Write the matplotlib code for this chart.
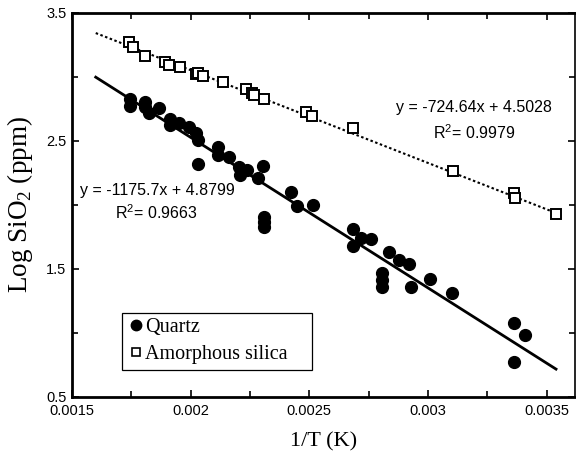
import matplotlib
matplotlib.use("Agg")
import matplotlib.pyplot as plt
from matplotlib.ticker import FixedLocator
from matplotlib.patches import Rectangle
import numpy as np

# Quartz data (1/T, log SiO2)
quartz_x = [0.001743, 0.001743, 0.001806, 0.001809, 0.001823, 0.001866, 0.001911, 0.001912,
            0.00195, 0.001993, 0.002021, 0.002031, 0.002031, 0.002117, 0.002117, 0.002162,
            0.002205, 0.002208, 0.002237, 0.002285, 0.002304, 0.002424, 0.002311, 0.002311,
            0.002311, 0.002449, 0.002516, 0.002685, 0.002685, 0.002717, 0.00276, 0.002805,
            0.002805, 0.002805, 0.002836, 0.002878, 0.002921, 0.00293, 0.00301, 0.003102,
            0.003363, 0.00341, 0.003363]
quartz_y = [2.826, 2.773, 2.807, 2.763, 2.716, 2.760, 2.672, 2.625,
            2.643, 2.612, 2.560, 2.508, 2.320, 2.455, 2.391, 2.373,
            2.299, 2.234, 2.273, 2.209, 2.307, 2.104, 1.904, 1.870,
            1.830, 1.992, 2.000, 1.812, 1.680, 1.740, 1.732, 1.471,
            1.414, 1.357, 1.630, 1.570, 1.539, 1.357, 1.420, 1.310,
            1.076, 0.984, 0.771]

# Amorphous silica data
amorph_x = [0.001739, 0.001758, 0.001806, 0.001894, 0.001908, 0.001955, 0.002021, 0.002032,
            0.002052, 0.002136, 0.002233, 0.002258, 0.002268, 0.00231, 0.002487, 0.002511,
            0.002685, 0.003104, 0.003363, 0.003366, 0.003542]
amorph_y = [3.271, 3.237, 3.164, 3.115, 3.094, 3.081, 3.023, 3.029,
            3.008, 2.961, 2.904, 2.873, 2.860, 2.828, 2.729, 2.698,
            2.599, 2.268, 2.091, 2.052, 1.930]

# Trend lines
quartz_fit = (-1175.7, 4.8799)
amorph_fit = (-724.64, 4.5028)
fit_range = [0.0016, 0.00354]

x_ticks = [0.0015, 0.002, 0.0025, 0.003, 0.0035]
x_tick_labels = ["0.0015", "0.002", "0.0025", "0.003", "0.0035"]
y_ticks = [0.5, 1.5, 2.5, 3.5]
y_tick_labels = ["0.5", "1.5", "2.5", "3.5"]

serif = ["Liberation Serif", "DejaVu Serif"]
sans = ["Liberation Sans", "DejaVu Sans"]
narrow = ["Liberation Sans Narrow", "Liberation Sans", "DejaVu Sans"]

fig = plt.figure(figsize=(5.76, 4.63), dpi=100)
ax = fig.add_axes([72/576, 1 - 397/463, (575 - 72)/576, (397 - 13)/463])

xr = np.array(fit_range)
ax.plot(xr, amorph_fit[0]*xr + amorph_fit[1], color="black", lw=1.5, ls=(0, (1.2, 1.2)), zorder=2)
ax.plot(xr, quartz_fit[0]*xr + quartz_fit[1], color="black", lw=2.0, zorder=2)

ax.plot(quartz_x, quartz_y, ls="none", marker="o", ms=8.5, mfc="black", mec="black",
        label="Quartz", zorder=3)
ax.plot(amorph_x, amorph_y, ls="none", marker="s", ms=7.5, mfc="white", mec="black",
        mew=1.4, label="Amorphous silica", zorder=3)

ax.set_xlim(0.0015, 0.00362)
ax.set_ylim(0.5, 3.5)

ax.xaxis.set_major_locator(FixedLocator(x_ticks))
ax.xaxis.set_minor_locator(FixedLocator([0.00175, 0.00225, 0.00275, 0.00325]))
ax.yaxis.set_major_locator(FixedLocator(y_ticks))
ax.yaxis.set_minor_locator(FixedLocator([1.0, 2.0, 3.0]))
ax.set_xticklabels(x_tick_labels, family=narrow, fontsize=10.5)
ax.set_yticklabels(y_tick_labels, family=narrow, fontsize=10.5)

ax.tick_params(which="both", direction="in", top=True, right=True, width=1.2)
ax.tick_params(which="major", length=5)
ax.tick_params(axis="x", which="major", pad=5)
ax.tick_params(axis="y", which="major", pad=4)
ax.tick_params(which="minor", length=4)

for s in ["left", "bottom", "top"]:
    ax.spines[s].set_linewidth(2.0)
ax.spines["right"].set_linewidth(1.2)

ax.set_xlabel("1/T (K)", family=serif, fontsize=16, labelpad=10)
ax.set_ylabel("Log SiO$_\\mathregular{2}$ (ppm)", family=serif, fontsize=19.5,
              labelpad=8)

ax.text(0.001534, 2.117, "y = -1175.7x + 4.8799", family=sans, fontsize=11.5, va="center", ha="left")
ax.text(0.001682, 1.9375, "R$^\\mathregular{2}$= 0.9663", family=sans, fontsize=11.5, va="center", ha="left")
ax.text(0.003195, 2.758, "y = -724.64x + 4.5028", family=sans, fontsize=11.5, va="center", ha="center")
ax.text(0.003195, 2.5625, "R$^\\mathregular{2}$= 0.9979", family=sans, fontsize=11.5, va="center", ha="center")

# legend frame (reference box is wider than its contents)
ax.add_patch(Rectangle((122/576, 1 - 370/463), 190/576, 57/463, transform=fig.transFigure,
                       facecolor="white", edgecolor="black", lw=0.9, zorder=4))
leg = ax.legend(loc="upper left", bbox_to_anchor=(126/576, 1 - 314/463), bbox_transform=fig.transFigure,
                prop={"family": serif, "size": 14.5}, frameon=False,
                handlelength=0.6, handletextpad=0.15, borderpad=0.2,
                labelspacing=0.4, borderaxespad=0)
leg.set_zorder(5)
leg.legend_handles[0].set_markersize(7.5)
leg.legend_handles[1].set_markersize(6)
leg.legend_handles[1].set_markeredgewidth(1.2)

fig.savefig("out.png", dpi=100)
